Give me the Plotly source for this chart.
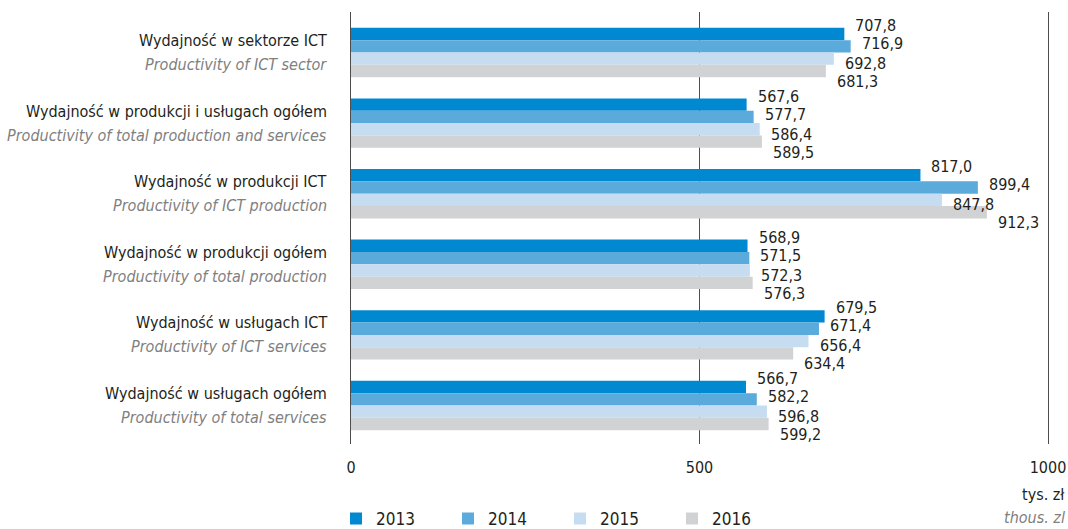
import plotly.graph_objects as go

categories_pl = [
    "Wydajność w sektorze ICT",
    "Wydajność w produkcji i usługach ogółem",
    "Wydajność w produkcji ICT",
    "Wydajność w produkcji ogółem",
    "Wydajność w usługach ICT",
    "Wydajność w usługach ogółem",
]
categories_en = [
    "Productivity of ICT sector",
    "Productivity of total production and services",
    "Productivity of ICT production",
    "Productivity of total production",
    "Productivity of ICT services",
    "Productivity of total services",
]
years = ["2013", "2014", "2015", "2016"]
v2013 = [707.8, 567.6, 817.0, 568.9, 679.5, 566.7]
v2014 = [716.9, 577.7, 899.4, 571.5, 671.4, 582.2]
v2015 = [692.8, 586.4, 847.8, 572.3, 656.4, 596.8]
v2016 = [681.3, 589.5, 912.3, 576.3, 634.4, 599.2]
series = [v2013, v2014, v2015, v2016]
x_ticks = [0, 500, 1000]

colors = ["#0088d1", "#5aaadc", "#c6ddf1", "#d1d2d4"]
FONT = "DejaVu Sans Condensed"
TXT = "#231f20"
GREY = "#808080"
LINE = "#4d4d4d"

fig = go.Figure()
for yr, vals, c in zip(years, series, colors):
    fig.add_trace(go.Bar(
        x=vals, y=categories_pl, orientation="h", name=yr,
        marker=dict(color=c, line=dict(width=0)),
    ))

# value labels
yshifts = [27, 9, -11, -29]
for i, vals in enumerate(series):
    for cat, v in zip(categories_pl, vals):
        fig.add_annotation(
            x=v, y=cat, xref="x", yref="y",
            text=f"{v:.1f}".replace(".", ","),
            showarrow=False, xanchor="left", yanchor="middle",
            xshift=9, yshift=yshifts[i],
            font=dict(family=FONT, size=16, color=TXT),
        )

# category labels (Polish + English)
for pl, en in zip(categories_pl, categories_en):
    fig.add_annotation(x=0, y=pl, xref="paper", yref="y", text=pl,
                       showarrow=False, xanchor="right", yanchor="middle",
                       xshift=-22, yshift=12,
                       font=dict(family=FONT, size=16, color=TXT))
    fig.add_annotation(x=0, y=pl, xref="paper", yref="y", text=f"<i>{en}</i>",
                       showarrow=False, xanchor="right", yanchor="middle",
                       xshift=-22, yshift=-12,
                       font=dict(family=FONT, size=16, color=GREY))

fig.add_annotation(x=1.027, y=-0.118, xref="paper", yref="paper",
                   text="tys. zł", showarrow=False, xanchor="right", yanchor="middle",
                   font=dict(family=FONT, size=16, color=TXT))
fig.add_annotation(x=1.027, y=-0.171, xref="paper", yref="paper",
                   text="<i>thous. zl</i>", showarrow=False, xanchor="right", yanchor="middle",
                   font=dict(family=FONT, size=16, color=GREY))

fig.update_layout(
    width=1068, height=529,
    margin=dict(l=351, r=20, t=12, b=85),
    paper_bgcolor="white", plot_bgcolor="white",
    barmode="group", bargap=0.3, bargroupgap=0,
    font=dict(family=FONT, size=16, color=TXT),
    showlegend=True,
    legend=dict(orientation="h", xref="container", yref="container",
                x=0.3146, y=0.019, xanchor="left", yanchor="middle",
                entrywidth=67, entrywidthmode="pixels",
                font=dict(family=FONT, size=17, color=TXT), traceorder="normal"),
    xaxis=dict(range=[0, 1000], tickvals=x_ticks, ticktext=[str(t) for t in x_ticks],
               showgrid=True, gridcolor=LINE, gridwidth=1, zeroline=False,
               showline=False, ticks="", ticklabelstandoff=12, automargin=False,
               tickfont=dict(family=FONT, size=16, color=TXT)),
    yaxis=dict(categoryorder="array", categoryarray=categories_pl, autorange="reversed",
               showticklabels=False,
               showgrid=False, showline=True, mirror=True, linecolor=LINE, linewidth=1,
               ticks="", automargin=False),
)

fig.write_html("out.html", config={"displayModeBar": False},
               post_script="document.body.style.margin='0';")
